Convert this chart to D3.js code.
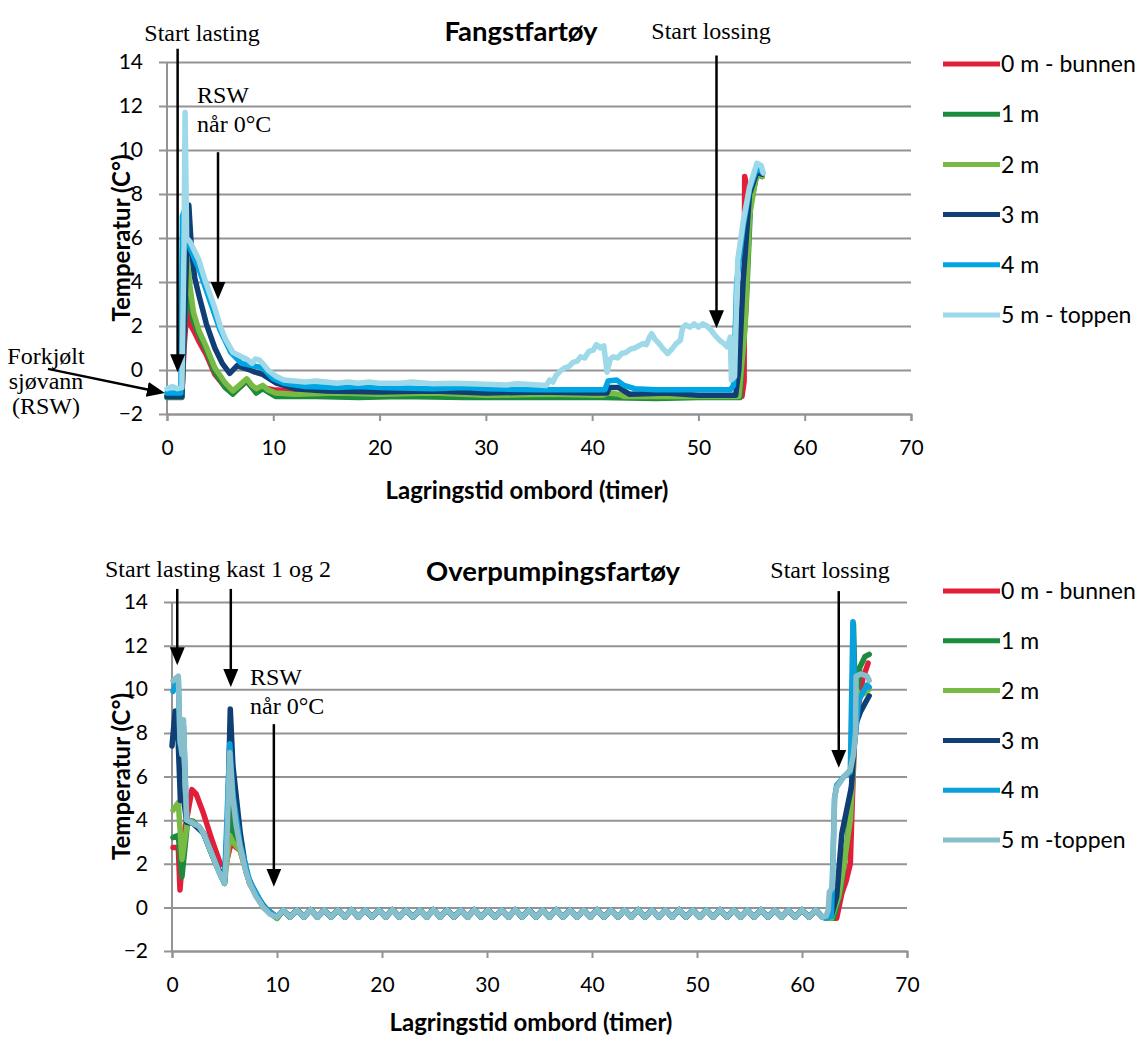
<!doctype html>
<html lang="no">
<head>
<meta charset="utf-8">
<title>Temperatur i RSW-tank</title>
<script src="https://cdnjs.cloudflare.com/ajax/libs/d3/7.8.5/d3.min.js"></script>
<style>
  body { margin: 0; background: #fff; }
  .note { font-family: "Liberation Serif", "Times New Roman", serif; font-size: 24px; }
  .lbl { font-family: Lato, sans-serif; font-size: 21px; }
  .leg { font-family: Lato, sans-serif; font-size: 23px; }
  .ttl { font-family: Lato, sans-serif; font-weight: bold; }
</style>
</head>
<body>
<script>
// ---- data ----
const xTicks = [0, 10, 20, 30, 40, 50, 60, 70];
const yTicks = [-2, 0, 2, 4, 6, 8, 10, 12, 14];

const topTitle = "Fangstfartøy";
const bottomTitle = "Overpumpingsfartøy";
const xTitle = "Lagringstid ombord (timer)";
const yTitle = "Temperatur (C°)";

const topNames = ["0 m - bunnen", "1 m", "2 m", "3 m", "4 m", "5 m - toppen"];
const bottomNames = ["0 m - bunnen", "1 m", "2 m", "3 m", "4 m", "5 m -toppen"];

// Fangstfartøy: [timer, °C]
const top0m = [[0,-1.2],[1.4,-1.2],[1.6,1.0],[1.9,2.9],[2.05,2.2],[2.5,1.8],[3.0,1.3],[3.7,0.7],[4.5,-0.2],[5.5,-0.8],[6.2,-1.05],[6.8,-0.8],[7.5,-0.5],[8.0,-0.8],[8.4,-0.95],[9.0,-0.8],[10,-0.9],[12,-0.95],[15,-1.0],[16,-1.1],[20,-1.15],[30,-1.15],[40,-1.2],[50,-1.2],[54.1,-1.2],[54.3,-0.5],[54.35,8.8],[54.6,8.2],[55,8.4],[55.5,8.9],[56,8.8]];
const top1m = [[0,-1.25],[1.4,-1.25],[1.6,1.5],[1.9,4.2],[2.1,3.2],[2.5,2.2],[3.0,1.6],[3.7,0.9],[4.5,-0.1],[5.5,-0.8],[6.2,-1.1],[6.8,-0.8],[7.5,-0.5],[8.0,-0.8],[8.4,-1.05],[9.0,-0.85],[9.5,-1.0],[10.2,-1.2],[14,-1.2],[18,-1.25],[22,-1.2],[28,-1.25],[34,-1.25],[41,-1.25],[46,-1.3],[50,-1.25],[53.9,-1.25],[54.5,3],[54.9,7.5],[55.5,8.9],[56,8.8]];
const top2m = [[0,-1.2],[1.4,-1.2],[1.6,2],[1.9,5.0],[2.1,4.0],[2.5,2.6],[3.0,1.8],[3.7,1.05],[4.5,0.1],[5.5,-0.6],[6.2,-0.95],[6.8,-0.7],[7.5,-0.4],[8.0,-0.7],[8.4,-0.85],[9.0,-0.7],[9.5,-0.9],[10.2,-1.05],[12,-1.1],[16,-1.05],[20,-1.1],[25,-1.05],[30,-1.15],[36,-1.1],[41,-1.15],[41.5,-1.05],[42.5,-1.1],[43,-1.2],[50,-1.2],[53.8,-1.2],[54.4,2],[54.8,7],[55.5,9],[56,8.8]];
const top3m = [[0,-1.2],[1.4,-1.2],[1.7,3.0],[1.9,6.0],[2.05,7.5],[2.3,5.5],[2.6,4.2],[3.0,3.4],[3.7,2.1],[4.5,1.0],[5.2,0.3],[5.9,-0.15],[6.6,0.2],[7.2,0.1],[7.8,0.0],[8.3,-0.1],[9.0,-0.2],[10.3,-0.6],[12,-0.85],[15,-0.95],[20,-1.0],[25,-0.95],[30,-1.05],[35,-1.0],[40,-1.05],[41.4,-1.05],[41.6,-0.8],[42.5,-0.8],[43.5,-1.1],[47,-1.05],[50,-1.15],[53.5,-1.15],[53.8,0],[54.2,4],[54.8,8],[55.5,9],[56,8.9]];
const top4m = [[0,-1.05],[1.3,-1.05],[1.45,7.0],[1.6,7.2],[1.8,6.0],[2.2,5.5],[3.0,4.6],[4.0,3.2],[5.0,1.8],[6.0,0.8],[7.0,0.3],[8.0,0.2],[9.0,0.1],[10,-0.4],[11,-0.6],[13,-0.75],[16,-0.8],[18,-0.75],[20,-0.8],[25,-0.85],[28,-0.8],[30,-0.85],[35,-0.9],[40,-0.9],[41.2,-0.9],[41.5,-0.5],[42.3,-0.45],[43,-0.7],[44,-0.85],[46,-0.9],[50,-0.9],[53.0,-0.9],[53.3,-0.7],[53.6,4.0],[54.2,6.5],[54.8,8.2],[55.5,9.2],[56,9.0]];
const top5m = [[0,-0.85],[0.5,-0.75],[1.0,-0.85],[1.4,-0.8],[1.6,5.5],[1.7,11.7],[1.85,6.0],[2.2,5.8],[2.6,5.4],[3.0,5.0],[3.5,4.2],[4.0,3.5],[4.5,2.8],[5.0,2.0],[5.5,1.4],[6.2,0.8],[7.0,0.6],[7.5,0.5],[8.0,0.3],[8.3,0.5],[8.7,0.45],[9.0,0.3],[9.5,0.0],[10.3,-0.3],[11,-0.45],[12,-0.5],[13,-0.55],[14,-0.5],[15,-0.55],[16,-0.6],[17,-0.55],[18,-0.6],[19,-0.55],[20,-0.6],[22,-0.6],[23,-0.55],[25,-0.62],[27,-0.6],[30,-0.65],[32,-0.68],[33,-0.62],[35.7,-0.7],[36.0,-0.45],[36.3,-0.55],[36.6,-0.25],[37.0,-0.05],[37.4,0.1],[37.8,0.15],[38.2,0.35],[38.6,0.4],[38.9,0.6],[39.3,0.55],[39.7,0.85],[40.1,0.9],[40.4,1.15],[40.8,1.0],[41.1,1.1],[41.4,-0.1],[41.7,0.5],[42.0,0.6],[42.4,0.55],[42.8,0.75],[43.2,0.8],[43.6,0.95],[44.0,1.0],[44.4,1.1],[44.8,1.2],[45.1,1.15],[45.4,1.5],[45.6,1.65],[45.9,1.4],[46.3,1.2],[46.7,0.95],[47.1,0.75],[47.5,0.95],[47.9,1.2],[48.3,1.35],[48.5,1.9],[48.8,2.05],[49.2,1.95],[49.6,2.1],[50.0,1.95],[50.4,2.1],[50.8,2.0],[51.2,1.8],[51.6,1.55],[52.0,1.35],[52.4,1.2],[52.7,1.05],[53.0,1.5],[53.1,-0.45],[53.4,-0.3],[53.7,5.0],[54.2,6.7],[54.8,8.3],[55.5,9.4],[55.9,9.3],[56.1,8.95]];

// Overpumpingsfartøy: the flat RSW part is the same zig-zag in all depths
const plateau = [[10.6,-0.12],[11.25,-0.45],[11.9,-0.12],[12.55,-0.45],[13.2,-0.1],[13.85,-0.45],[14.5,-0.12],[15.15,-0.45],[15.8,-0.12],[16.45,-0.45],[17.1,-0.1],[17.75,-0.45],[18.4,-0.12],[19.05,-0.45],[19.7,-0.12],[20.35,-0.45],[21.0,-0.1],[21.65,-0.45],[22.3,-0.12],[22.95,-0.45],[23.6,-0.12],[24.25,-0.45],[24.9,-0.1],[25.55,-0.45],[26.2,-0.12],[26.85,-0.45],[27.5,-0.12],[28.15,-0.45],[28.8,-0.1],[29.45,-0.45],[30.1,-0.12],[30.75,-0.45],[31.4,-0.12],[32.05,-0.45],[32.7,-0.1],[33.35,-0.45],[34.0,-0.12],[34.65,-0.45],[35.3,-0.12],[35.95,-0.45],[36.6,-0.1],[37.25,-0.45],[37.9,-0.12],[38.55,-0.45],[39.2,-0.12],[39.85,-0.45],[40.5,-0.1],[41.15,-0.45],[41.8,-0.12],[42.45,-0.45],[43.1,-0.12],[43.75,-0.45],[44.4,-0.1],[45.05,-0.45],[45.7,-0.12],[46.35,-0.45],[47.0,-0.12],[47.65,-0.45],[48.3,-0.1],[48.95,-0.45],[49.6,-0.12],[50.25,-0.45],[50.9,-0.12],[51.55,-0.45],[52.2,-0.1],[52.85,-0.45],[53.5,-0.12],[54.15,-0.45],[54.8,-0.12],[55.45,-0.45],[56.1,-0.1],[56.75,-0.45],[57.4,-0.12],[58.05,-0.45],[58.7,-0.12],[59.35,-0.45],[60.0,-0.1],[60.65,-0.45],[61.3,-0.12],[61.95,-0.45]];

const bot0mStart = [[0.1,2.75],[0.6,2.75],[0.76,0.8],[1.2,3.5],[1.9,5.4],[2.3,5.2],[3.0,4.3],[3.8,3.1],[4.6,2.0],[5.1,1.9],[5.4,2.5],[5.7,3.1],[6.0,2.8],[6.5,2.6],[7.4,1.1],[8.7,0.05],[10,-0.45]];
const bot0mEnd = [[63.3,-0.5],[63.8,0.65],[64.2,1.2],[64.6,2.0],[64.8,5],[65.0,7.8],[65.3,9.0],[65.8,10.5],[66.3,11.2]];
const bot1mStart = [[0.1,3.2],[0.6,3.3],[0.95,1.4],[1.5,4.0],[2.0,3.95],[3,3.4],[4,2.2],[5.0,1.1],[5.5,4.7],[5.8,3.5],[6.5,2.7],[7.4,1.1],[8.7,0.0],[10,-0.5]];
const bot1mEnd = [[63.0,-0.5],[63.7,0.8],[64.3,3.0],[64.8,6.0],[64.9,13.0],[65.1,9],[65.5,11],[66.0,11.5],[66.4,11.6]];
const bot2mStart = [[0.1,4.45],[0.6,4.8],[0.95,2.2],[1.5,4.0],[2.0,3.9],[3,3.4],[4,2.2],[5.0,1.1],[5.5,3.3],[5.8,3.0],[6.5,2.6],[7.4,1.1],[8.7,0.0],[10,-0.5]];
const bot2mEnd = [[62.8,-0.5],[63.5,0.5],[64.0,2.0],[64.6,4.0],[64.9,6.5],[65.1,10.0],[65.6,9.7],[66.4,10.0]];
const bot3mStart = [[0.0,7.4],[0.3,9.0],[0.5,8.8],[0.8,4.9],[1.1,5.0],[1.4,3.9],[2.0,3.85],[3.0,3.4],[4,2.2],[5.0,1.2],[5.3,4],[5.55,9.1],[5.8,6.5],[6.5,3.4],[7.1,1.55],[8,0.6],[8.7,0.1],[9.4,-0.3],[10,-0.45]];
const bot3mEnd = [[62.8,-0.4],[63.3,0.5],[63.8,3.4],[64.7,5.5],[65.0,7.5],[65.2,8.5],[65.6,9.0],[66.4,9.7]];
const bot4mStart = [[0.1,9.9],[0.4,10.3],[0.6,10.5],[0.76,7.5],[1.1,8.3],[1.4,4.0],[2.0,3.85],[2.6,3.7],[3.0,3.4],[3.5,2.8],[4.0,2.2],[4.5,1.6],[5.0,1.1],[5.5,7.5],[5.8,5.2],[6.5,2.9],[7.4,1.2],[8.7,0.05],[10,-0.45]];
const bot4mEnd = [[62.3,-0.5],[62.8,-0.4],[63.1,5.0],[63.3,5.6],[64.0,6.0],[64.6,6.2],[64.85,13.1],[65.1,8.0],[65.4,9.5],[66.2,10.2],[66.4,10.1]];
const bot5mStart = [[0.1,10.4],[0.6,10.6],[0.76,7.7],[0.95,7.0],[1.1,8.6],[1.25,6.0],[1.4,4.0],[2.0,3.85],[2.6,3.7],[3.0,3.4],[3.5,2.8],[4.0,2.2],[4.5,1.6],[5.0,1.1],[5.2,2.5],[5.5,7.1],[5.8,5.0],[6.1,3.8],[6.5,2.75],[7.0,1.7],[7.4,1.1],[8.0,0.5],[8.7,0.0],[9.3,-0.3],[10,-0.45]];
const bot5mEnd = [[62.3,-0.4],[62.5,-0.1],[62.6,0.7],[62.9,0.9],[63.1,5.0],[63.3,5.5],[64.0,6.0],[64.6,6.3],[64.9,7.0],[65.1,8.0],[65.15,10.6],[65.6,10.7],[66.2,10.6],[66.4,10.4]];

// annotations: arrows in chart units [timer, °C] -> [timer, °C]
const topNotes = [["Start lasting"], ["RSW", "når 0°C"], ["Forkjølt", "sjøvann", "(RSW)"], ["Start lossing"]];
const topArrows = [[[1.0, 14.6], [1.0, -0.1]], [[4.8, 9.9], [4.8, 3.2]], [[-11.2, 0.05], [-0.2, -1.05]], [[51.7, 14.3], [51.7, 1.9]]];
const bottomNotes = [["Start lasting kast 1 og 2"], ["RSW", "når 0°C"], ["Start lossing"]];
const bottomArrows = [[[0.5, 14.6], [0.5, 11.1]], [[5.6, 14.6], [5.6, 10.1]], [[9.7, 8.4], [9.7, 0.95]], [[63.5, 14.5], [63.5, 6.4]]];

// ---- layout ----
const topColors = ["#E21F3B", "#1C8B3D", "#78BA43", "#0F3F75", "#00A5E3", "#9ED9E9"];
const bottomColors = ["#E21F3B", "#1C8B3D", "#78BA43", "#0F3F75", "#0AA0DC", "#86BFCB"];
const gridColor = "#939393";

const panels = [
  {
    x0: 167, x1: 911, y0: 62, y1: 414,
    title: topTitle, titleX: 521, titleY: 41,
    xTitleX: 527, xTitleY: 499,
    names: topNames, colors: topColors,
    series: [top0m, top1m, top2m, top3m, top4m, top5m],
    legendY: 64, legendStep: 50.2,
    notes: topNotes,
    notePos: [[202, 41, "middle"], [197, 103, "start"], [46, 364, "middle"], [711, 39, "middle"]],
    arrows: topArrows
  },
  {
    x0: 172, x1: 907, y0: 602, y1: 951,
    title: bottomTitle, titleX: 553, titleY: 581,
    xTitleX: 531, xTitleY: 1031,
    names: bottomNames, colors: bottomColors,
    series: [
      bot0mStart.concat(plateau, bot0mEnd),
      bot1mStart.concat(plateau, bot1mEnd),
      bot2mStart.concat(plateau, bot2mEnd),
      bot3mStart.concat(plateau, bot3mEnd),
      bot4mStart.concat(plateau, bot4mEnd),
      bot5mStart.concat(plateau, bot5mEnd)
    ],
    legendY: 591, legendStep: 49.8,
    notes: bottomNotes,
    notePos: [[218, 577, "middle"], [250, 685, "start"], [830, 578, "middle"]],
    arrows: bottomArrows
  }
];

const svg = d3.select("body").append("svg")
  .attr("width", 1147).attr("height", 1037)
  .attr("xmlns", "http://www.w3.org/2000/svg");

svg.append("defs").append("marker")
  .attr("id", "head")
  .attr("markerUnits", "userSpaceOnUse")
  .attr("viewBox", "0 0 18 15")
  .attr("markerWidth", 18).attr("markerHeight", 15)
  .attr("refX", 18).attr("refY", 7.5)
  .attr("orient", "auto")
  .append("path").attr("d", "M0,0 L18,7.5 L0,15 Z").attr("fill", "#000");

panels.forEach(p => {
  const x = d3.scaleLinear().domain([0, 70]).range([p.x0, p.x1]);
  const y = d3.scaleLinear().domain([-2, 14]).range([p.y1, p.y0]);
  const g = svg.append("g");

  // gridlines + y labels
  g.append("g")
    .attr("transform", `translate(${p.x0 - 8},0)`)
    .call(d3.axisLeft(y).tickValues(yTicks).tickSize(-(p.x1 - p.x0 + 8)).tickPadding(16).tickFormat(d3.format("d")))
    .call(a => a.select(".domain").remove())
    .call(a => a.selectAll("line").attr("stroke", gridColor).attr("stroke-width", 2))
    .call(a => a.selectAll("text").attr("class", "lbl").attr("fill", "#000"))
    .attr("font-size", null).attr("font-family", null);

  // x axis
  g.append("g")
    .attr("transform", `translate(0,${p.y1})`)
    .call(d3.axisBottom(x).tickValues(xTicks).tickSize(7).tickPadding(19))
    .call(a => a.select(".domain").attr("stroke", gridColor).attr("stroke-width", 2))
    .call(a => a.selectAll("line").attr("stroke", gridColor).attr("stroke-width", 2))
    .call(a => a.selectAll("text").attr("class", "lbl").attr("fill", "#000"))
    .attr("font-size", null).attr("font-family", null);

  // y axis line
  g.append("line")
    .attr("x1", x(0)).attr("x2", x(0)).attr("y1", y(14)).attr("y2", y(-2))
    .attr("stroke", gridColor).attr("stroke-width", 2);

  // series
  const line = d3.line().x(d => x(d[0])).y(d => y(d[1]));
  g.append("g").selectAll("path")
    .data(p.series)
    .join("path")
    .attr("d", line)
    .attr("fill", "none")
    .attr("stroke", (d, i) => p.colors[i])
    .attr("stroke-width", 5.5)
    .attr("stroke-linejoin", "round")
    .attr("stroke-linecap", "round");

  // titles
  g.append("text").attr("class", "ttl").attr("font-size", 27.5)
    .attr("x", p.titleX).attr("y", p.titleY).attr("text-anchor", "middle").text(p.title);
  g.append("text").attr("class", "ttl").attr("font-size", 24)
    .attr("x", p.xTitleX).attr("y", p.xTitleY).attr("text-anchor", "middle").text(xTitle);
  g.append("text").attr("class", "ttl").attr("font-size", 24)
    .attr("transform", `translate(120,${(p.y0 + p.y1) / 2}) rotate(-90)`)
    .attr("text-anchor", "middle").attr("dominant-baseline", "central").text(yTitle);

  // legend
  const leg = g.append("g").selectAll("g")
    .data(p.names)
    .join("g")
    .attr("transform", (d, i) => `translate(943,${p.legendY + i * p.legendStep})`);
  leg.append("line").attr("x1", 0).attr("x2", 57)
    .attr("stroke", (d, i) => p.colors[i]).attr("stroke-width", 5);
  leg.append("text").attr("class", "leg").attr("x", 58).attr("dy", "0.36em").text(d => d);

  // annotations
  p.notes.forEach((lines, i) => {
    const [tx, ty, anchor] = p.notePos[i];
    const t = g.append("text").attr("class", "note").attr("text-anchor", anchor);
    lines.forEach((s, j) => t.append("tspan").attr("x", tx).attr("y", ty + j * 25 + (lines.length === 2 ? j * 4 : 0)).text(s));
  });
  p.arrows.forEach(a => {
    const xa = x(a[0][0]), ya = y(a[0][1]), xb = x(a[1][0]), yb = y(a[1][1]);
    const len = Math.hypot(xb - xa, yb - ya);
    const ex = xb - (xb - xa) / len * 8, ey = yb - (yb - ya) / len * 8;
    g.append("line").attr("x1", xa).attr("y1", ya).attr("x2", ex).attr("y2", ey)
      .attr("stroke", "#000").attr("stroke-width", 2.5);
    g.append("line").attr("x1", ex).attr("y1", ey).attr("x2", xb).attr("y2", yb)
      .attr("stroke", "none").attr("marker-end", "url(#head)");
  });
});
</script>
</body>
</html>
